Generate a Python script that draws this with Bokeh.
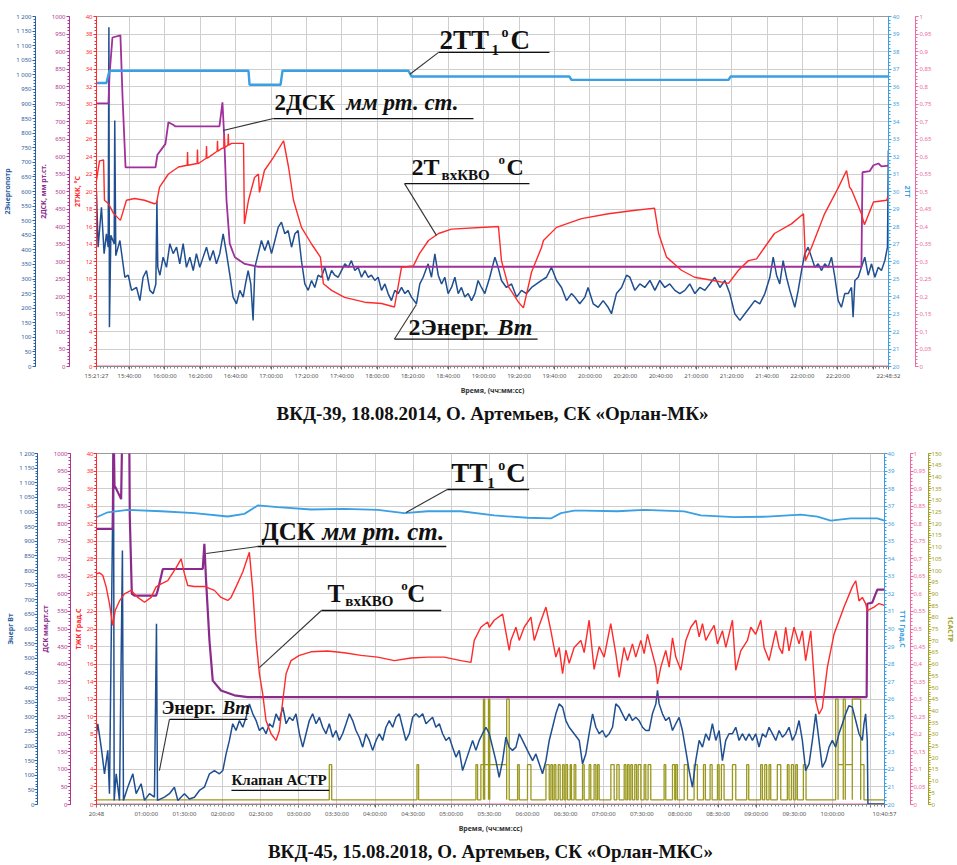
import numpy as np
from bokeh.plotting import figure
from bokeh.models import Range1d, LinearAxis, FixedTicker, Label, Title, CustomJSTickFormatter
from bokeh.layouts import column
from bokeh.embed import file_html
from bokeh.resources import INLINE

SERIF = "Liberation Serif"
SANS = "Noto Sans"

# ---------------------------------------------------------------- top panel data
TOP_START = "15:21:27"
TOP_END = "22:48:32"
top_tick_labels = ["15:21:27", "15:40:00", "16:00:00", "16:20:00", "16:40:00", "17:00:00", "17:20:00",
                   "17:40:00", "18:00:00", "18:20:00", "18:40:00", "19:00:00", "19:20:00", "19:40:00",
                   "20:00:00", "20:20:00", "20:40:00", "21:00:00", "21:20:00", "21:40:00", "22:00:00",
                   "22:20:00", "22:40:00", "22:48:32"]
top_tick_shown = [True] * 22 + [False, True]

# times in minutes from TOP_START
top_tt_t = [0, 5.6, 7.3, 85.8, 86.4, 103.9, 105.0, 176.1, 177.8, 267.0, 268.1, 356.8, 357.9, 447.08]
top_tt_v = [36.2, 36.2, 36.9, 36.9, 36.1, 36.1, 36.9, 36.9, 36.57, 36.57, 36.38, 36.38, 36.57, 36.57]

top_dsk_t = [0, 6.8, 7.3, 9.0, 13.5, 14.7, 16.4, 33.3, 34.4, 38.9,
             40.6, 43.5, 44.6, 69.4, 71.1, 72.1, 73.4, 75.2, 78.1, 83.7,
             91.3, 431.8, 432.4, 436.4, 438.6, 441.4, 443.1, 447.08]
top_dsk_v = [752, 752, 830, 940, 946, 770, 569, 569, 605, 636,
             698, 690, 686, 686, 755, 655, 474, 351, 312, 293,
             285, 285, 555, 558, 575, 580, 572, 574]

top_red_t = [0, 1.7, 4.0, 4.5, 6.8, 9.6, 13.5, 16.9, 21.5, 27.1,
             32.7, 33.9, 35.6, 40.6, 46.3, 51.2, 51.4, 51.6, 56.8, 57.0,
             57.2, 57.6, 61.9, 62.1, 62.3, 63.2, 68.1, 68.3, 68.5, 70.6,
             71.9, 72.1, 72.3, 74.2, 74.4, 74.6, 76.2, 83.0,
             83.5, 85.8, 89.2, 91.4, 92.0, 94.8, 99.9, 105.6, 108.4, 111.2,
             115.7, 121.4, 126.4, 128.1, 132.7, 140.0, 151.3, 160.9, 168.2, 172.2,
             178.9, 182.3, 187.4, 193.1, 200.4, 226.9, 228.6, 232.6, 238.2, 241.0,
             245.6, 251.2, 252.3, 259.7, 268.1, 273.8, 289.0, 302.0, 315.0, 317.3,
             321.8, 330.2, 337.6, 348.9, 356.8, 362.4, 368.0, 372.6, 377.1, 382.7,
             392.3, 399.1, 400.2, 403.6, 411.0, 418.9, 423.4, 425.1, 426.2, 431.8,
             433.5, 438.6, 446.0, 447.08]
top_red_v = [21.3, 23.5, 23.6, 19.0, 18.6, 17.5, 16.7, 19.0, 19.2, 19.0,
             18.6, 18.7, 20.5, 22.0, 22.8, 23.0, 24.5, 23.0, 23.2, 24.8,
             23.2, 23.2, 23.8, 25.2, 23.8, 23.9, 24.6, 25.8, 24.6, 24.9,
             25.0, 26.4, 25.0, 25.3, 26.6, 25.3, 25.5, 25.5,
             16.3, 19.0, 21.6, 22.0, 19.9, 22.4, 23.9, 25.8, 22.8, 19.0,
             15.9, 14.0, 12.5, 9.45, 8.7, 7.9, 7.35, 7.2, 6.8, 11.35,
             11.5, 12.9, 14.4, 15.2, 15.7, 16.0, 12.1, 9.1, 7.35, 6.7,
             10.8, 13.6, 14.4, 15.9, 16.5, 16.9, 17.45, 17.8, 18.1, 15.2,
             12.5, 11.0, 10.2, 9.8, 9.5, 11.0, 12.1, 12.3, 13.6, 15.2,
             16.3, 17.45, 12.1, 13.6, 17.45, 20.5, 22.4, 20.5, 20.2, 17.45,
             16.2, 18.8, 19.0, 19.5]

top_en_t = [0, 0.9, 2.8, 4.3, 5.6, 6.6, 7.0, 7.3, 8.1, 10.0,
            10.3, 10.9, 13.2, 16.0, 17.9, 19.8, 22.6, 24.5, 26.3, 28.2,
            30.1, 32.0, 33.5, 34.1, 34.6, 35.8, 37.6, 39.5, 41.4, 43.3,
            45.2, 47.0, 48.9, 50.8, 52.7, 54.6, 56.4, 58.3, 60.2, 62.1,
            64.0, 65.9, 67.7, 69.6, 71.5, 73.4, 75.3, 77.1, 79.0, 80.9,
            82.8, 84.1, 85.6, 87.1, 88.4, 89.4, 91.3, 93.1, 95.0, 96.9,
            98.8, 100.7, 102.6, 104.4, 106.3, 108.2, 110.1, 112.0, 113.8, 115.7,
            117.6, 119.5, 121.4, 123.2, 125.1, 127.0, 128.9, 130.8, 132.7, 134.5,
            136.4, 138.3, 140.2, 142.1, 143.9, 145.8, 147.7, 149.6, 151.5, 153.4,
            155.2, 157.1, 159.0, 160.9, 162.8, 164.6, 166.5, 168.4, 170.3, 172.2,
            174.1, 175.9, 177.8, 180.6, 182.5, 184.4, 187.2, 189.1, 191.0, 192.9,
            194.8, 196.6, 198.5, 200.4, 202.3, 204.2, 206.0, 207.9, 209.8, 211.7,
            213.6, 215.4, 217.3, 219.2, 222.0, 224.9, 226.7, 228.6, 231.4, 234.3,
            237.1, 239.9, 242.7, 245.6, 248.4, 251.2, 254.0, 256.8, 259.7, 262.5,
            265.3, 268.1,
            270.0, 272.8, 275.7, 277.5, 280.4, 283.2, 286.0, 288.8, 290.7, 293.5,
            296.4, 299.2, 301.1, 303.9, 306.7, 309.5, 312.4, 315.2, 318.0, 320.8,
            323.6, 326.5, 329.3, 332.1, 334.9, 337.8, 340.6, 343.4, 346.2, 349.0,
            351.9, 354.7, 357.5, 360.3, 363.2, 366.0, 368.8, 371.6, 374.4, 377.3,
            380.1, 382.0, 383.9, 385.7, 387.6, 389.5, 391.4, 394.2, 396.1, 398.0,
            399.8, 401.7, 403.6, 405.5, 407.4, 409.3, 411.1, 413.0, 414.9, 416.8,
            418.7, 420.5, 422.4, 424.3, 426.2, 427.1, 428.1, 430.0, 431.8, 433.7,
            435.6, 437.5, 439.4, 441.3, 443.1, 445.0, 446.5, 447.0]
top_en_v = [600, 409, 546, 387, 455, 409, 1163, 135, 450, 420,
            843, 380, 432, 306, 313, 261, 271, 226, 306, 329,
            261, 250, 283, 569, 340, 313, 375, 340, 421, 387,
            409, 352, 421, 340, 375, 329, 387, 340, 375, 409,
            363, 398, 352, 387, 455, 387, 313, 238, 215, 261,
            238, 283, 329, 283, 158, 340, 387, 432, 398, 432,
            387, 432, 478, 495, 455, 466, 409, 455, 466, 363,
            283, 261, 295, 271, 313, 306, 340, 295, 329, 313,
            306, 329, 352, 340, 363, 329, 340, 306, 329, 306,
            313, 295, 306, 261, 283, 250, 226, 261, 250, 271,
            250, 261, 238, 215, 283, 306, 352, 306, 386, 313,
            283, 306, 250, 271, 306, 250, 271, 238, 250, 226,
            250, 295, 271, 250, 306, 375, 340, 295, 271, 283,
            238, 261, 250, 271, 283, 295, 306, 340, 295, 271,
            226, 250,
            238, 215, 238, 271, 215, 203, 226, 203, 181, 250,
            271, 313, 306, 261, 283, 271, 295, 261, 295, 271,
            283, 261, 250, 261, 283, 250, 271, 261, 283, 306,
            271, 295, 250, 181, 158, 181, 203, 226, 215, 250,
            306, 375, 313, 283, 363, 306, 261, 203, 261, 329,
            386, 409, 375, 340, 352, 329, 352, 340, 375, 306,
            226, 203, 250, 250, 271, 169, 295, 306, 340, 375,
            313, 352, 306, 340, 329, 363, 409, 741]

top_pink_t = [0, 447.08]
top_pink_v = [0, 0]

# ---------------------------------------------------------------- bottom panel data
BOT_START = "00:20:48"
BOT_END = "10:40:57"
bot_tick_labels = ["00:20:48", "01:00:00", "01:30:00", "02:00:00", "02:30:00", "03:00:00", "03:30:00",
                   "04:00:00", "04:30:00", "05:00:00", "05:30:00", "06:00:00", "06:30:00", "07:00:00",
                   "07:30:00", "08:00:00", "08:30:00", "09:00:00", "09:30:00", "10:00:00", "10:30:00",
                   "10:40:57"]
bot_tick_text = ["20:48"] + bot_tick_labels[1:20] + ["", "10:40:57"]

bot_tt_t = [0, 8.9, 24.6, 50.9, 77.1, 103.3, 116.4, 126.9, 142.6, 168.8,
            195.0, 221.3, 242.2, 260.6, 286.8, 313.0, 339.2, 357.6, 365.5, 375.9,
            383.8, 410.0, 431.0, 462.5, 475.6, 501.8, 528.0, 554.2, 567.4, 577.8,
            593.5, 614.5, 620.15]
bot_tt_v = [36.37, 36.65, 36.79, 36.71, 36.6, 36.41, 36.56, 37.04, 36.94, 36.81,
            36.85, 36.79, 36.6, 36.71, 36.71, 36.47, 36.34, 36.3, 36.6, 36.75,
            36.75, 36.71, 36.79, 36.7, 36.47, 36.37, 36.4, 36.52, 36.4, 36.18,
            36.3, 36.3, 36.18]

bot_dsk_t = [0, 12.8, 13.4, 14.2, 14.7, 18.1, 19.4, 20.4, 25.7, 26.2,
             27.8, 29.9, 46.9, 48.2, 52.2, 83.6, 84.9, 86.2, 88.9, 91.5,
             98.0, 108.5, 119.0, 606.1, 606.6, 610.5, 614.5, 620.15]
bot_dsk_v = [785, 785, 1100, 900, 905, 880, 870, 1100, 1100, 820,
             600, 595, 595, 610, 671, 671, 743, 640, 467, 353,
             325, 311, 306, 306, 572, 575, 612, 612]

bot_red_t = [0, 2.4, 5.0, 7.6, 10.2, 12.8, 14.7, 18.1, 22.0, 27.3,
             32.5, 37.8, 43.0, 46.9, 50.9, 56.1, 62.7, 66.6, 69.2, 71.8,
             77.1, 84.9, 92.8, 98.0, 103.3, 105.9, 109.8, 115.1, 120.3, 123.0,
             125.6, 128.2, 130.8, 133.4, 137.4, 141.3, 143.9, 146.6, 149.2, 153.1,
             159.7, 168.8, 181.9, 195.0, 208.2, 221.3, 234.4, 247.5, 260.6, 273.7,
             286.8, 294.7, 297.3, 302.5, 307.8, 309.1, 313.0, 319.6, 324.8, 326.1,
             330.1, 332.7, 336.6, 341.9, 344.5, 348.4, 353.7, 357.6, 361.5, 364.1,
             366.8, 369.4, 372.0, 375.9,
             381.2, 383.8, 387.7, 391.6, 395.6, 399.5, 404.7, 408.7, 411.3, 415.2,
             417.9, 421.8, 424.4, 428.4, 431.0, 433.6, 436.2, 440.2, 441.5, 444.1,
             448.0, 450.7, 453.3, 455.9, 459.9, 463.8, 467.7, 471.7, 474.3, 476.9,
             479.5, 483.5, 486.1, 488.7, 492.6, 495.3, 500.5, 503.1, 507.0, 512.3,
             514.9, 518.8, 522.8, 525.4, 529.3, 534.6, 537.2, 539.8, 542.4, 545.0,
             549.0, 552.9, 555.5, 558.1, 562.1, 563.4, 566.0, 568.6, 571.2, 575.2,
             580.4, 588.3, 594.8, 597.5, 600.1, 602.7, 605.3, 606.6, 611.9, 615.8,
             620.15]
bot_red_v = [26.3, 26.4, 26.1, 24.8, 22.9, 20.4, 22.1, 23.2, 24.0, 24.4,
             23.6, 23.05, 23.6, 24.8, 25.15, 25.5, 27.0, 28.0, 26.3, 24.96,
             24.85, 24.85, 24.4, 23.6, 23.25, 23.6, 24.8, 26.5, 28.75, 24.4,
             18.7, 14.9, 12.6, 9.57, 8.06, 7.3, 8.4, 11.85, 14.9, 16.4,
             17.0, 17.4, 17.5, 17.3, 17.0, 16.8, 16.4, 16.7, 16.8, 16.8,
             16.4, 16.2, 18.7, 20.2, 20.8, 20.2, 21.0, 21.7, 17.55, 18.7,
             20.2, 18.7, 20.2, 21.35, 18.7, 20.4, 22.5, 19.8, 16.8, 17.9,
             14.9, 17.6, 16.1, 17.9,
             18.7, 17.3, 21.0, 15.4, 18.0, 16.8, 20.6, 17.2, 14.5, 17.9,
             16.4, 18.3, 16.8, 18.7, 17.2, 19.4, 17.9, 15.7, 13.75, 15.65,
             17.55, 15.65, 19.0, 16.8, 15.3, 18.7, 20.2, 21.0, 19.1, 20.6,
             18.7, 19.8, 20.4, 18.3, 19.8, 17.9, 21.0, 15.3, 17.5, 18.7,
             20.2, 19.4, 21.0, 17.9, 16.4, 19.8, 17.9, 17.2, 20.2, 17.5,
             20.2, 18.3, 19.8, 16.4, 19.8, 17.2, 11.85, 10.3, 11.0, 15.65,
             19.4, 22.5, 24.8, 25.5, 23.2, 23.6, 22.9, 22.1, 22.5, 22.9,
             22.7]

bot_en_t = [0, 1.0, 3.7, 6.3, 8.9, 10.2, 13.4, 13.9, 15.5, 18.1,
            20.4, 21.2, 24.6, 28.6, 31.2, 35.1, 37.8, 41.7, 45.6, 47.2,
            48.0, 53.5, 57.4, 61.3, 64.0, 69.2, 73.1, 77.1, 81.0, 84.9,
            88.9, 92.8, 96.7, 99.4, 102.0, 104.6, 107.2, 109.8, 112.5, 115.1,
            117.7, 120.3, 123.0, 125.6, 128.2, 130.8, 133.4, 136.1, 138.7, 141.3,
            143.9, 146.6, 149.2, 151.8, 154.4, 157.0, 159.7, 162.3, 164.9, 167.5,
            170.1, 172.8, 175.4, 178.0, 180.6, 183.2, 185.9, 188.5, 191.1, 193.7,
            196.4, 199.0, 201.6, 204.2, 206.8, 209.5, 212.1, 214.7, 217.3, 220.0,
            222.6, 225.2, 227.8, 230.4, 233.1, 235.7, 238.3, 240.9, 243.5, 246.2,
            248.8, 251.4, 254.0, 256.7, 259.3, 261.9, 264.5, 267.1, 269.8, 272.4,
            275.0, 277.6, 280.2, 282.9, 285.5, 288.1, 290.7, 293.4, 296.0, 298.6,
            301.2, 303.8, 306.5, 309.1, 311.7, 314.3, 316.9, 319.6, 322.2, 324.8,
            327.4, 330.1, 332.7, 335.3, 337.9, 340.5, 343.2, 345.8, 348.4, 351.0,
            353.7, 356.3, 358.9, 361.5, 364.1, 366.8, 369.4, 372.0, 375.9,
            379.9, 382.5, 385.1, 387.7, 390.4, 393.0, 395.6, 398.2, 400.8, 403.5,
            406.1, 408.7, 411.3, 413.9, 416.6, 419.2, 421.8, 424.4, 427.0, 429.7,
            432.3, 434.9, 437.5, 440.2, 441.5, 442.8, 445.4, 448.0, 450.7, 453.3,
            455.9, 458.5, 461.1, 463.8, 466.4, 469.0, 471.6, 474.3, 476.9, 479.5,
            482.1, 484.7, 487.4, 490.0, 492.6, 495.2, 497.8, 500.5, 503.1, 505.7,
            508.3, 511.0, 513.6, 516.2, 518.8, 521.4, 524.1, 526.7, 529.3, 531.9,
            534.6, 537.2, 539.8, 542.4, 545.0, 547.7, 550.3, 552.9, 555.5, 558.1,
            560.8, 563.4, 566.0, 568.6, 571.2, 573.9, 576.5, 579.1, 581.7, 584.3,
            587.0, 589.6, 592.2, 594.8, 597.5, 600.1, 602.7, 604.0, 605.3, 606.6,
            607.1, 620.15]
bot_en_v = [241, 276, 196, 105, 185, 37, 1250, 14, 105, 14,
            868, 14, 59, 105, 37, 71, 14, 37, 25, 618,
            14, 25, 37, 59, 14, 37, 19, 25, 48, 59,
            105, 116, 105, 116, 173, 219, 276, 253, 287, 264,
            298, 344, 310, 287, 253, 264, 242, 276, 264, 310,
            287, 333, 276, 298, 287, 310, 242, 196, 242, 287,
            310, 276, 298, 264, 242, 276, 230, 253, 219, 242,
            276, 310, 287, 253, 230, 196, 242, 219, 185, 219,
            242, 219, 264, 287, 264, 298, 310, 264, 219, 242,
            298, 310, 298, 310, 276, 287, 298, 264, 276, 242,
            219, 230, 196, 162, 185, 116, 150, 185, 219, 185,
            219, 242, 264, 242, 196, 150, 93, 150, 230, 196,
            185, 196, 242, 219, 196, 173, 150, 173, 139, 105,
            150, 219, 264, 310, 344, 333, 287, 264, 242,
            219, 139, 173, 242, 310, 264, 242, 253, 230, 242,
            264, 344, 333, 310, 287, 310, 287, 298, 287, 264,
            253, 253, 310, 344, 390, 344, 310, 287, 298, 253,
            276, 298, 253, 184, 116, 59, 150, 219, 196, 242,
            219, 276, 219, 253, 150, 219, 242, 242, 264, 219,
            242, 219, 242, 219, 242, 196, 242, 230, 264, 242,
            219, 253, 230, 242, 264, 219, 242, 287, 219, 116,
            139, 219, 310, 219, 127, 150, 196, 219, 196, 242,
            276, 310, 338, 333, 287, 242, 219, 276, 310, 219,
            2, 2]

# valve (Клапан АСТР): switching intervals, minutes from BOT_START
olive_base = 2
olive_on = [183.2, 252.2, 298.6, 302.5, 304.5, 305.5, 308.5, 309.5, 322.8, 331.4,
            339.2, 353.7, 357.6, 360.2, 363.4, 366.8, 369.4, 372.8, 375.9, 382.5,
            387.7, 391.6, 394.3, 404.8, 409.5, 415.3, 417.9, 420.5, 423.6, 426.3,
            431.0, 434.1, 446.7, 453.3, 455.9, 462.5, 470.3, 477.7, 482.9, 488.7,
            491.8, 500.5, 511.7, 522.7, 525.9, 529.3, 535.8, 543.7, 546.9, 550.3,
            556.3, 581.7, 583.6, 587.7, 589.3, 594.8, 601.4]
olive_off = [185.1, 253.5, 299.9, 304.5, 305.5, 308.5, 309.5, 322.8, 324.8, 332.7,
             341.9, 356.3, 358.9, 361.5, 364.9, 368.1, 370.7, 373.8, 377.2, 383.8,
             389.0, 393.0, 395.6, 407.4, 411.3, 416.6, 419.2, 421.8, 425.0, 428.4,
             432.3, 436.2, 448.0, 455.1, 457.2, 465.1, 472.9, 479.2, 484.5, 490.0,
             493.9, 503.1, 513.3, 524.1, 527.4, 530.6, 538.5, 545.0, 548.5, 551.6,
             558.4, 583.6, 587.7, 589.3, 594.8, 601.4, 604.0]
olive_level = [17, 17, 17, 17, 45, 17, 45, 17, 45, 17,
               17, 17, 17, 17, 17, 17, 17, 17, 17, 17,
               17, 17, 17, 17, 17, 17, 17, 17, 17, 17,
               17, 17, 17, 17, 17, 17, 17, 17, 17, 17,
               17, 17, 17, 17, 17, 17, 17, 17, 17, 17,
               17, 45, 17, 45, 17, 45, 17]

bot_pink_t = [0, 620.15]
bot_pink_v = [0, 0]

# ---------------------------------------------------------------- styling
C_EN = "#1f4f90"
C_EN_AX = "#2d5e9e"
C_DSK = "#a0309c"
C_DSK2 = "#8a2a8c"
C_DSK_AX = "#b2358f"
C_RED = "#ff2a2a"
C_TT = "#3a9fe3"
C_PINK = "#ee69a5"
C_OLIVE = "#9a981c"
GRID = "#cfcfcf"


def to_min(s):
    h, m, sec = [int(p) for p in s.split(":")]
    return h * 60 + m + sec / 60.0


def tick_formatter(tvals, texts):
    return CustomJSTickFormatter(args=dict(tvals=tvals, texts=texts), code="""
        for (let i = 0; i < tvals.length; i++) {
            if (Math.abs(tick - tvals[i]) < 1e-6) return texts[i];
        }
        return "";
    """)


EN_FMT = CustomJSTickFormatter(code="""
    if (tick >= 1000) { return Math.floor(tick/1000) + " " + String(tick % 1000).padStart(3, "0"); }
    return String(tick);
""")
COMMA_FMT = CustomJSTickFormatter(code="""
    const s = (Math.round(tick*100)/100).toString();
    return s.replace(".", ",");
""")


def style_axis(ax, color, ticks, minor, label="", label_color=None, fmt=None, lso=1, aso=1):
    ax.ticker = FixedTicker(ticks=ticks, minor_ticks=minor)
    if fmt is not None:
        ax.formatter = fmt
    ax.axis_line_color = color
    ax.major_tick_line_color = color
    ax.minor_tick_line_color = color
    ax.major_label_text_color = color
    ax.major_label_text_font = SANS
    ax.major_label_text_font_size = "6px"
    ax.major_tick_in = 0
    ax.major_tick_out = 3
    ax.minor_tick_in = 0
    ax.minor_tick_out = 2
    ax.major_label_standoff = lso
    ax.axis_label = label
    ax.axis_label_text_color = label_color or color
    ax.axis_label_text_font = SANS
    ax.axis_label_text_font_size = "7px"
    ax.axis_label_text_font_style = "bold"
    ax.axis_label_standoff = aso


def frange(a, b, step):
    n = int(round((b - a) / step))
    return [round(a + i * step, 4) for i in range(n + 1)]


def make_panel(start, end, tick_labels, tick_texts, minor_step, frame_w, frame_h,
               borders, left_labels, right_labels, caption, olive=False, lso=1, aso=1):
    t_end = to_min(end) - to_min(start)
    p = figure(frame_width=frame_w, frame_height=frame_h,
               x_range=Range1d(0, t_end), y_range=Range1d(0, 40),
               output_backend="svg", toolbar_location=None,
               min_border_left=borders[0], min_border_right=borders[1],
               min_border_top=borders[2], min_border_bottom=borders[3])
    p.extra_y_ranges = {"en": Range1d(0, 1200), "dsk": Range1d(0, 1000),
                        "tt": Range1d(20, 40), "pink": Range1d(0, 1),
                        "olive": Range1d(0, 150)}
    p.background_fill_color = "white"
    p.border_fill_color = "white"
    p.outline_line_color = "#9a9a9a"
    p.outline_line_width = 1

    xt = [to_min(s) - to_min(start) for s in tick_labels]
    xa = p.xaxis[0]
    xa.ticker = FixedTicker(ticks=xt, minor_ticks=frange(0, t_end, minor_step))
    xa.formatter = tick_formatter(xt, tick_texts)
    xa.axis_line_color = "#888888"
    xa.major_tick_line_color = "#666666"
    xa.minor_tick_line_color = "#888888"
    xa.major_tick_in = 0
    xa.major_tick_out = 3
    xa.minor_tick_in = 0
    xa.minor_tick_out = 2
    xa.major_label_text_font = SANS
    xa.major_label_text_font_size = "6px"
    xa.major_label_text_color = "#555555"
    xa.major_label_standoff = 2
    xa.axis_label = "Время, (чч:мм:сс)"
    xa.axis_label_text_font = SANS
    xa.axis_label_text_font_size = "7px"
    xa.axis_label_text_font_style = "bold"
    xa.axis_label_text_color = "#333333"
    xa.axis_label_standoff = 3

    red_ax = p.yaxis[0]
    style_axis(red_ax, C_RED, frange(0, 40, 2), frange(0, 40, 0.4), left_labels[2], lso=lso, aso=aso)
    dsk_ax = LinearAxis(y_range_name="dsk")
    style_axis(dsk_ax, C_DSK_AX, frange(0, 1000, 50), frange(0, 1000, 10), left_labels[1], C_DSK2,
               lso=lso, aso=aso)
    p.add_layout(dsk_ax, "left")
    en_ax = LinearAxis(y_range_name="en")
    style_axis(en_ax, C_EN_AX, frange(0, 1200, 50), frange(0, 1200, 10), left_labels[0], fmt=EN_FMT,
               lso=lso, aso=aso)
    p.add_layout(en_ax, "left")

    tt_ax = LinearAxis(y_range_name="tt")
    style_axis(tt_ax, C_TT, frange(20, 40, 1), frange(20, 40, 0.2), right_labels[0], lso=lso, aso=aso)
    p.add_layout(tt_ax, "right")
    pk_ax = LinearAxis(y_range_name="pink")
    style_axis(pk_ax, C_PINK, frange(0, 1, 0.05), frange(0, 1, 0.01), "", fmt=COMMA_FMT, lso=lso, aso=aso)
    p.add_layout(pk_ax, "right")
    if olive:
        ol_ax = LinearAxis(y_range_name="olive")
        style_axis(ol_ax, "#a3a128", frange(0, 150, 5), frange(0, 150, 1), right_labels[1],
                   lso=lso, aso=aso)
        p.add_layout(ol_ax, "right")

    p.xgrid.grid_line_color = GRID
    p.ygrid.grid_line_color = GRID
    p.xgrid.grid_line_width = 1
    p.ygrid.grid_line_width = 1

    p.add_layout(Title(text=caption, align="center", text_font=SERIF, text_font_size="19px",
                       text_font_style="bold", text_color="#111111", standoff=6), "below")
    return p, t_end


def label(p, x, y, text, size, ppu, style="bold"):
    # y is the wanted text baseline (left-axis units); lift by ~1/3 em to compensate box placement
    lift = 0.34 * size / ppu
    p.add_layout(Label(x=x, y=y + lift, text=text, text_font=SERIF, text_font_size=f"{size}px",
                       text_font_style=style, text_color="#111111", text_baseline="alphabetic"))


def rule(p, xs, ys, color="#111111", w=1.3):
    p.line(xs, ys, line_color=color, line_width=w)


# ================================================================ top panel
top, top_end = make_panel(TOP_START, TOP_END, top_tick_labels,
                          [s if show else "" for s, show in zip(top_tick_labels, top_tick_shown)],
                          2, 792, 350, (95, 70, 16, 74),
                          ["2Энергопотр", "2ДСК, мм рт.ст.", "2ТЖК, °С"], ["2ТТ", ""],
                          "ВКД-39, 18.08.2014, О. Артемьев, СК «Орлан-МК»", lso=1, aso=1)

top.line(top_pink_t, top_pink_v, y_range_name="pink", line_color=C_PINK, line_width=2)
top.line(top_en_t, top_en_v, y_range_name="en", line_color=C_EN, line_width=1.5)
top.line(top_dsk_t, top_dsk_v, y_range_name="dsk", line_color=C_DSK, line_width=1.8)
top.line(top_red_t, top_red_v, line_color=C_RED, line_width=1.4)
top.line(top_tt_t, top_tt_v, y_range_name="tt", line_color=C_TT, line_width=2.4)

PT = 8.75
label(top, 193.6, 36.3, "2ТТ", 27, PT)
label(top, 223.0, 35.6, "1", 15, PT)
label(top, 228.6, 37.6, "o", 14, PT)
label(top, 233.7, 36.3, "C", 27, PT)
rule(top, [193.1, 255.7], [35.9, 35.9])
rule(top, [176.9, 193.1], [33.4, 35.9], "#333333", 1.1)

label(top, 100.5, 29.26, "2ДСК", 23, PT)
label(top, 141.0, 29.26, "мм рт. ст.", 23, PT, "bold italic")
rule(top, [99.9, 212.8], [28.34, 28.34])
rule(top, [71.5, 99.9], [26.97, 28.34], "#333333", 1.1)

label(top, 177.8, 21.83, "2Т", 24, PT)
label(top, 194.8, 21.26, "вхКВО", 15, PT)
label(top, 226.9, 23.2, "o", 13, PT)
label(top, 231.4, 21.83, "C", 24, PT)
rule(top, [173.9, 244.4], [20.9, 20.9])
rule(top, [173.9, 191.9], [20.9, 14.99], "#333333", 1.1)

label(top, 176.1, 3.54, "2Энерг.", 24, PT)
label(top, 226.4, 3.54, "Вт", 24, PT, "bold italic")
rule(top, [168.2, 249.0], [3.14, 3.14])
rule(top, [168.2, 180.6], [3.14, 7.09], "#333333", 1.1)

# ================================================================ bottom panel
bot, bot_end = make_panel(BOT_START, BOT_END, bot_tick_labels, bot_tick_text,
                          3, 788, 351, (92, 77, 13, 61),
                          ["Энерг Вт", "ДСК мм.рт.ст", "ТЖК Град.С"], ["ТТ1 Град.С", "1САСТР"],
                          "ВКД-45, 15.08.2018, О. Артемьев, СК «Орлан-МКС»", olive=True, lso=0, aso=1)

ol_x = [0.0]
ol_y = [olive_base]
for a, b, lv in zip(olive_on, olive_off, olive_level):
    ol_x += [a, a, b, b]
    ol_y += [olive_base, lv, lv, olive_base]
ol_x.append(bot_end)
ol_y.append(olive_base)

bot.line(bot_pink_t, bot_pink_v, y_range_name="pink", line_color=C_PINK, line_width=2)
bot.line(ol_x, ol_y, y_range_name="olive", line_color=C_OLIVE, line_width=1.3)
bot.line(bot_en_t, bot_en_v, y_range_name="en", line_color=C_EN, line_width=1.5)
bot.line(bot_dsk_t, bot_dsk_v, y_range_name="dsk", line_color=C_DSK2, line_width=2.2)
bot.line(bot_red_t, bot_red_v, line_color=C_RED, line_width=1.4)
bot.line(bot_tt_t, bot_tt_v, y_range_name="tt", line_color=C_TT, line_width=1.8)

PB = 8.775
label(bot, 279.2, 36.73, "ТТ", 27, PB)
label(bot, 307.5, 36.05, "1", 15, PB)
label(bot, 316.2, 38.06, "o", 14, PB)
label(bot, 322.5, 36.73, "C", 27, PB)
rule(bot, [276.0, 340.5], [35.9, 35.9])
rule(bot, [243.6, 276.0], [33.28, 35.9], "#333333", 1.1)

label(bot, 129.8, 30.09, "ДСК", 25, PB)
label(bot, 177.7, 30.09, "мм рт. ст.", 25, PB, "bold italic")
rule(bot, [126.6, 275.3], [29.4, 29.4])
rule(bot, [86.3, 126.6], [28.6, 29.4], "#333333", 1.1)

label(bot, 181.7, 23.06, "Т", 25, PB)
label(bot, 195.8, 22.56, "вхКВО", 15, PB)
label(bot, 239.9, 24.5, "o", 13, PB)
label(bot, 244.6, 23.06, "C", 25, PB)
rule(bot, [177.0, 271.3], [22.11, 22.11])
rule(bot, [128.2, 177.0], [15.6, 22.11], "#333333", 1.1)

label(bot, 51.1, 10.37, "Энерг.", 19, PB)
label(bot, 99.1, 10.37, "Вт", 19, PB, "bold italic")
rule(bot, [57.4, 118.8], [9.69, 9.69])
rule(bot, [49.5, 57.4], [3.87, 9.69], "#333333", 1.1)

label(bot, 106.2, 2.17, "Клапан АСТР", 15, PB)
rule(bot, [106.2, 183.2], [1.6, 1.6])

layout = column(top, bot, spacing=0)
open("out.html", "w").write(file_html(layout, INLINE))
